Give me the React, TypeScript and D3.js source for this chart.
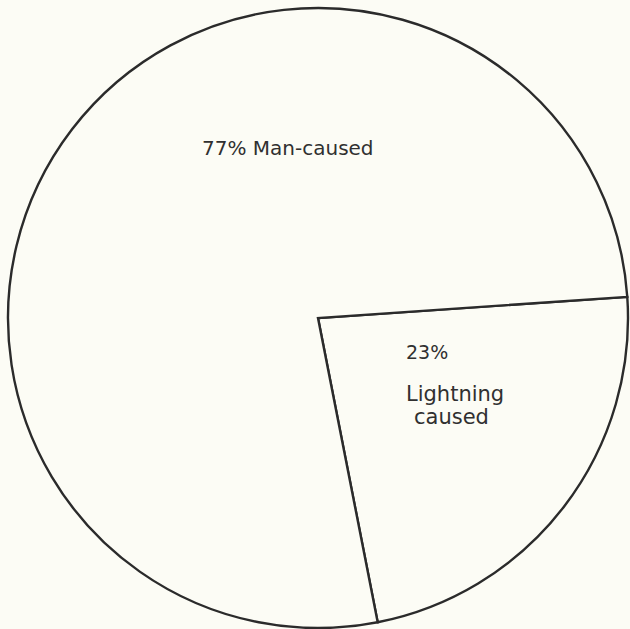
import React from "react";
import * as d3 from "d3";

// Share of fires by cause (percent)
const causes = ["Lightning caused", "Man-caused"];
const shares = [23, 77];
const shareLabels = ["23%", "77%"];

const WIDTH = 630;
const HEIGHT = 629;
const CX = 318;
const CY = 318;
const R = 310;
const INK = "#2b2b2b";
const PAPER = "#fcfcf5";

export default function App() {
  const data = causes.map((c, i) => ({ cause: c, share: shares[i], label: shareLabels[i] }));

  // Lightning wedge sits to the lower right of center
  const lightningMid = (127.5 * Math.PI) / 180;
  const lightningSpan = (shares[0] / d3.sum(shares)) * 2 * Math.PI;
  const start = lightningMid - lightningSpan / 2;

  const pie = d3
    .pie<{ cause: string; share: number; label: string }>()
    .sort(null)
    .value((d) => d.share)
    .startAngle(start)
    .endAngle(start + 2 * Math.PI);

  const arc = d3
    .arc<d3.PieArcDatum<{ cause: string; share: number; label: string }>>()
    .innerRadius(0)
    .outerRadius(R);

  const arcs = pie(data);

  const font = "'DejaVu Sans', Verdana, sans-serif";
  const [lightningWord, causedWord] = causes[0].split(" ");

  return (
    <svg
      width={WIDTH}
      height={HEIGHT}
      style={{ position: "absolute", left: 0, top: 0, background: PAPER }}
    >
      <rect x={0} y={0} width={WIDTH} height={HEIGHT} fill={PAPER} />
      <g transform={`translate(${CX},${CY})`}>
        {arcs.map((a, i) => (
          <path
            key={i}
            d={arc(a) || ""}
            fill={PAPER}
            stroke={INK}
            strokeWidth={2.4}
            strokeLinejoin="miter"
          />
        ))}
      </g>
      <g fill="#303030" fontFamily={font}>
        <text x={202} y={155} fontSize={20}>
          {`${shareLabels[1]} ${causes[1]}`}
        </text>
        <text x={406} y={359} fontSize={19}>{shareLabels[0]}</text>
        <text x={406} y={401} fontSize={21}>{lightningWord}</text>
        <text x={414} y={424} fontSize={21}>{causedWord}</text>
      </g>
    </svg>
  );
}
